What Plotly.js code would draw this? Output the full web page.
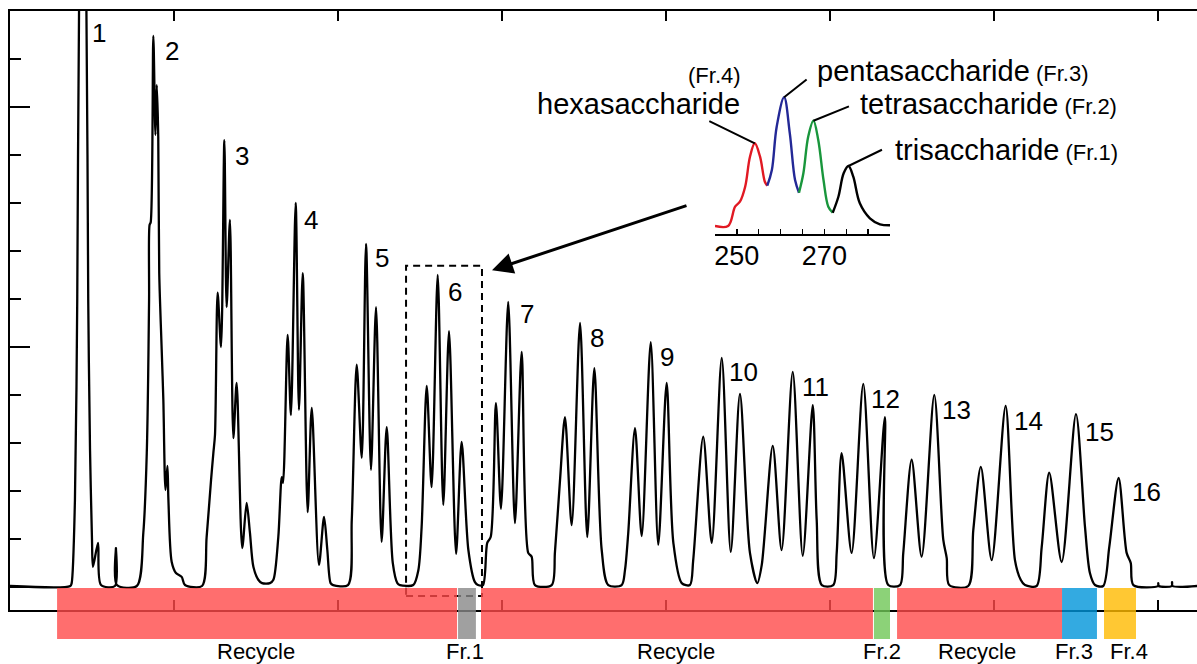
<!DOCTYPE html>
<html>
<head>
<meta charset="utf-8">
<script src="https://cdn.plot.ly/plotly-3.0.1.min.js"></script>
<style>html,body{margin:0;padding:0;background:#fff}#chart{width:1197px;height:664px}</style>
</head>
<body>
<div id="chart"></div>
<script>
// ---- main chromatogram (retention time, min ; detector signal, a.u.) ----
const timeMin = [0, 36.8, 37.6, 39.6, 41.0, 42.1, 44.2, 46.6, 47.7, 48.8, 50.0, 50.6, 53.7, 55.5, 64.0, 64.6, 65.2,
  77.3, 81.3, 83.4, 84.8, 85.1, 85.8, 87.4, 88.7, 89.5, 90.4, 91.0, 92.5, 93.5, 94.8, 96.0, 96.6, 98.6, 101.2, 104.7, 106.7,
  117.1, 119.9, 122.6, 124.0, 125.0, 126.6, 128.7, 130.7, 132.1, 134.1, 136.2, 138.2, 141.6, 144.3, 146.3, 148.4, 151.4, 153.7, 158.5,
  160.6, 163.6, 165.7, 166.5, 169.3, 171.3, 174.2, 176.2, 178.5, 181.5, 184.0, 188.4, 191.5, 193.5, 195.5, 197.0, 206.1,
  208.4, 211.4, 214.5, 217.1, 220.1, 223.2, 226.6, 229.7, 233.4, 236.2, 237.8, 245.9,
  249.0, 251.0, 254.1, 257.1, 260.8, 264.2, 267.7, 272.0, 275.4, 279.5, 283.5, 285.4, 288.4,
  291.0, 293.1, 296.3, 299.4, 303.8, 307.9, 312.0, 316.0, 318.1, 320.1, 330.3,
  332.3, 335.4, 338.4, 342.5, 347.6, 352.0, 356.3, 360.8, 364.8, 373.0,
  375.0, 377.0, 381.1, 385.2, 390.7, 395.3, 400.4, 404.5, 409.6, 414.6,
  416.6, 422.7, 427.9, 434.0, 439.5, 445.1, 451.2, 455.7, 458.4,
  465.1, 470.5, 477.3, 483.4, 489.5, 491.9, 495.0, 502.0,
  504.1, 507.1, 513.2, 520.3, 526.8, 533.5, 535.5, 542.7,
  544.7, 549.8, 555.9, 563.6, 569.1, 571.2, 572.7, 584.3,
  587.4, 592.0, 598.6, 607.1, 612.8, 616.3, 618.9, 626.0,
  629.1, 633.7, 641.3, 650.0, 655.5, 658.5, 661.6, 666.6,
  670.3, 676.0, 680.9, 683.4, 685.0, 700.0, 700.2, 700.5, 708.4, 708.6, 708.9, 724];
const signal = [0.02, 0.02, 0.08, 1.81, 5.98, 12.0, 15.35, 12.0, 5.98, 2.85, 0.98, 0.42, 0.92, 0.04, 0.02, 0.81, 0.04,
  0.02, 1.13, 2.79, 5.98, 7.54, 7.6, 11.48, 9.42, 10.46, 9.38, 6.54, 4.94, 3.9, 2.02, 2.52, 1.81, 0.52, 0.29, 0.21, 0.04,
  0.02, 1.04, 2.23, 2.79, 3.17, 6.13, 5.0, 9.31, 5.83, 7.65, 3.10, 4.25, 0.81, 1.75, 1.13, 0.42, 0.15, 0.08, 0.08,
  0.15, 1.04, 2.29, 2.17, 5.25, 3.58, 8.0, 3.69, 6.54, 1.56, 3.73, 0.46, 1.46, 0.77, 0.08, 0.04, 0.04,
  1.40, 4.63, 2.69, 7.15, 2.44, 5.83, 0.94, 3.33, 0.5, 0.08, 0.04, 0.04,
  0.35, 1.25, 4.19, 2.08, 6.5, 1.71, 5.33, 0.69, 3.02, 0.77, 0.10, 0.04, 0.04,
  0.92, 1.04, 3.83, 1.63, 5.94, 1.33, 4.90, 0.71, 0.63, 0.04, 0.04,
  0.73, 2.23, 3.54, 1.29, 5.5, 1.04, 4.56, 0.77, 0.04, 0.04,
  0.35, 1.13, 3.31, 1.06, 5.10, 0.88, 4.25, 0.92, 0.08, 0.04,
  0.56, 3.13, 0.92, 4.77, 0.73, 4.02, 0.71, 0.08, 0.46,
  2.94, 0.77, 4.48, 0.65, 3.79, 1.40, 0.04, 0.04,
  0.71, 2.79, 0.71, 4.23, 0.60, 3.54, 0.04, 0.04,
  0.71, 2.65, 0.63, 4.0, 0.98, 0.60, 0.04, 0.02,
  1.19, 2.5, 0.56, 3.77, 0.56, 0.15, 0.04, 0.02,
  0.83, 2.38, 0.52, 3.60, 1.25, 0.29, 0.04, 0.02,
  0.83, 2.27, 0.71, 0.5, 0.04, 0.02, 0.08, 0.02, 0.02, 0.1, 0.02, 0.02];

// ---- peak cluster labels ----
const peakLabels = ['1','2','3','4','5','6','7','8','9','10','11','12','13','14','15','16'];
const peakLabelTime = [54.3, 98.8, 141.5, 183.5, 226.8, 271.3, 315.2, 358.0, 400.6, 447.0, 490.9, 534.1, 577.4, 621.3, 664.6, 693.3];
const peakLabelSignal = [11.54, 11.17, 8.98, 7.65, 6.85, 6.15, 5.69, 5.19, 4.79, 4.48, 4.17, 3.92, 3.69, 3.46, 3.23, 1.98];

// ---- collected fractions ----
const fracNames = ['Recycle', 'Fr.1', 'Recycle', 'Fr.2', 'Recycle', 'Fr.3', 'Fr.4'];
const fracStart = [28.7, 273.2, 287.2, 526.8, 540.9, 641.5, 667.1];
const fracEnd = [272.6, 284.1, 526.2, 536.6, 641.5, 662.8, 686.6];
const fracLabelTime = [150.0, 277.4, 406.1, 531.7, 589.6, 648.8, 682.3];
const fracColors = ['rgb(255,74,74)', 'rgb(136,136,136)', 'rgb(255,74,74)', 'rgb(111,199,86)', 'rgb(255,74,74)', 'rgb(0,149,218)', 'rgb(255,186,0)'];

// ---- inset: expanded peak cluster 6 ----
const hexaTime = [245.0, 248.0, 249.6, 250.7, 251.9, 253.0, 254.1, 255.3, 256.4, 256.95];
const hexaSignal = [0, 0, 1.93, 2.43, 3.93, 6.93, 8.27, 6.93, 4.43, 4.03];
const pentaTime = [256.95, 258.0, 259.1, 260.8, 262.1, 263.3, 264.2];
const pentaSignal = [4.03, 5.6, 9.93, 12.87, 9.27, 4.6, 3.33];
const tetraTime = [264.2, 265.2, 266.3, 267.5, 268.6, 269.8, 270.9, 271.9];
const tetraSignal = [3.33, 5.27, 8.93, 10.53, 8.6, 4.6, 1.93, 1.33];
const triTime = [271.9, 273.2, 274.4, 275.5, 276.6, 278.1, 280.4, 282.7, 285.0];
const triSignal = [1.33, 2.93, 5.27, 6.0, 4.93, 2.27, 0.77, 0.17, 0.07];
const insetTickVals = [245, 250, 255, 260, 265, 270, 275, 280, 285];
const insetTickText = ['', '250', '', '', '', '270', '', '', ''];

const FONT = 'Liberation Sans, Arial, Helvetica, sans-serif';

const traces = [
  {x: timeMin, y: signal, type: 'scatter', mode: 'lines', line: {color: '#000', width: 2.3, shape: 'spline', smoothing: 0.8}, hoverinfo: 'skip'},
  {x: hexaTime, y: hexaSignal, xaxis: 'x2', yaxis: 'y2', type: 'scatter', mode: 'lines', line: {color: 'rgb(225,25,35)', width: 2.4, shape: 'spline'}},
  {x: pentaTime, y: pentaSignal, xaxis: 'x2', yaxis: 'y2', type: 'scatter', mode: 'lines', line: {color: 'rgb(35,40,150)', width: 2.4, shape: 'spline'}},
  {x: tetraTime, y: tetraSignal, xaxis: 'x2', yaxis: 'y2', type: 'scatter', mode: 'lines', line: {color: 'rgb(25,150,60)', width: 2.4, shape: 'spline'}},
  {x: triTime, y: triSignal, xaxis: 'x2', yaxis: 'y2', type: 'scatter', mode: 'lines', line: {color: '#000', width: 2.4, shape: 'spline'}}
];

const shapes = [
  {type: 'rect', xref: 'x', yref: 'y', x0: 241.5, x1: 287.8, y0: -0.19, y1: 6.69,
   line: {color: '#000', width: 2, dash: '7px,5px'}, fillcolor: 'rgba(0,0,0,0)'}
];
fracNames.forEach((n, i) => {
  shapes.push({type: 'rect', xref: 'x', yref: 'paper', x0: fracStart[i], x1: fracEnd[i], y0: -0.0484, y1: 0.0367,
    fillcolor: fracColors[i], opacity: 0.8, line: {width: 0}, layer: 'above'});
});

const annotations = [];
peakLabels.forEach((t, i) => {
  annotations.push({x: peakLabelTime[i], y: peakLabelSignal[i], xref: 'x', yref: 'y', text: t, showarrow: false,
    font: {size: 26, color: '#000', family: FONT}});
});
fracNames.forEach((t, i) => {
  annotations.push({x: fracLabelTime[i], y: -0.0695, xref: 'x', yref: 'paper', text: t, showarrow: false,
    yanchor: 'middle', font: {size: 22, color: '#000', family: FONT}});
});
// inset labels
const big = {size: 29, color: '#000', family: FONT};
annotations.push({x: 429.3, y: 10.66, xref: 'x', yref: 'y', text: '(Fr.4)', showarrow: false, font: {size: 22, color: '#000', family: FONT}});
annotations.push({x: 446.3, y: 10.06, xref: 'x', yref: 'y', xanchor: 'right', text: 'hexasaccharide', showarrow: false, font: big});
annotations.push({x: 490.9, y: 10.75, xref: 'x', yref: 'y', xanchor: 'left', showarrow: false, font: big,
  text: 'pentasaccharide<span style="font-size:22px"> (Fr.3)</span>'});
annotations.push({x: 517.1, y: 10.06, xref: 'x', yref: 'y', xanchor: 'left', showarrow: false, font: big,
  text: 'tetrasaccharide<span style="font-size:22px"> (Fr.2)</span>'});
annotations.push({x: 538.4, y: 9.10, xref: 'x', yref: 'y', xanchor: 'left', showarrow: false, font: big,
  text: 'trisaccharide<span style="font-size:22px"> (Fr.1)</span>'});
// leader lines from inset peaks
const leaders = [[254.1, 8.27, -47, -23], [260.8, 12.87, 24, -19], [267.5, 10.53, 37, -15], [275.5, 6.0, 35, -17]];
leaders.forEach(l => {
  annotations.push({x: l[0], y: l[1], xref: 'x2', yref: 'y2', ax: l[2], ay: l[3], text: '', showarrow: true,
    arrowhead: 0, arrowwidth: 2, arrowcolor: '#000'});
});
// big arrow to the boxed cluster
annotations.push({x: 293.9, y: 6.6, xref: 'x', yref: 'y', ax: 196, ay: -65, text: '', showarrow: true,
  arrowhead: 2, arrowsize: 1.4, arrowwidth: 3, arrowcolor: '#000'});

const layout = {
  width: 1197, height: 664,
  margin: {l: 10, r: 0, t: 11, b: 54},
  showlegend: false,
  paper_bgcolor: '#fff', plot_bgcolor: 'rgba(0,0,0,0)',
  font: {family: FONT, color: '#000'},
  xaxis: {range: [0, 723.8], showline: true, linewidth: 2, linecolor: '#000', mirror: 'ticks',
    ticks: 'inside', ticklen: 10, tickwidth: 2, tickcolor: '#000', tick0: 0, dtick: 100,
    showticklabels: false, showgrid: false, zeroline: false},
  yaxis: {range: [-0.48, 12], showline: true, linewidth: 2, linecolor: '#000',
    ticks: 'inside', ticklen: 20, tickwidth: 2, tickcolor: '#000', tick0: 0, dtick: 5,
    minor: {ticks: 'inside', ticklen: 11, tickwidth: 2, tickcolor: '#000', tick0: 0, dtick: 1, showgrid: false},
    showticklabels: false, showgrid: false, zeroline: false},
  xaxis2: {domain: [0.5939, 0.7414], anchor: 'y2', range: [245, 285], showline: true, linewidth: 2, linecolor: '#000',
    ticks: 'inside', ticklen: 5, tickwidth: 1.5, tickcolor: '#000', tickvals: insetTickVals, ticktext: insetTickText,
    ticklabelstandoff: -3,
    tickfont: {size: 27, family: FONT, color: '#000'}, showgrid: false, zeroline: false},
  yaxis2: {domain: [0.6277, 0.8681], anchor: 'x2', range: [-0.8, 13.6], visible: false},
  shapes: shapes,
  annotations: annotations
};

Plotly.newPlot('chart', traces, layout, {staticPlot: true, displayModeBar: false});
</script>
</body>
</html>
